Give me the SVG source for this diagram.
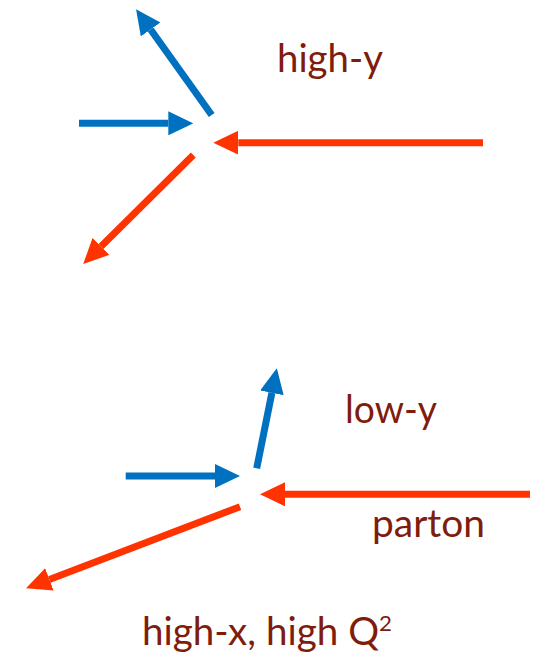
<svg xmlns="http://www.w3.org/2000/svg" width="539" height="662" viewBox="0 0 539 662">
<style>
.b{stroke:#0070C0;stroke-width:7;fill:none}
.r{stroke:#FF3300;stroke-width:7;fill:none}
.t{font-family:Lato,"Open Sans","Liberation Sans",sans-serif;font-size:38px;fill:#7F1C0C}
</style>
<defs>
<marker id="ab" viewBox="0 -12 25 24" markerWidth="25" markerHeight="24" refX="0" refY="0" orient="auto" markerUnits="userSpaceOnUse"><path d="M0,-12 L25,0 L0,12 z" fill="#0070C0"/></marker>
<marker id="ar" viewBox="0 -12 25 24" markerWidth="25" markerHeight="24" refX="0" refY="0" orient="auto" markerUnits="userSpaceOnUse"><path d="M0,-12 L25,0 L0,12 z" fill="#FF3300"/></marker>
</defs>
<rect width="539" height="662" fill="#fff"/>
<g id="connectors">
<line class="b" x1="211.7" y1="115" x2="150.6" y2="29.5" marker-end="url(#ab)"/>
<line class="b" x1="79" y1="123.3" x2="168.3" y2="123.3" marker-end="url(#ab)"/>
<line class="r" x1="483" y1="142.7" x2="238.3" y2="142.7" marker-end="url(#ar)"/>
<line class="r" x1="193.3" y1="155" x2="101" y2="246.4" marker-end="url(#ar)"/>
<line class="b" x1="256.7" y1="468.3" x2="271.9" y2="392.8" marker-end="url(#ab)"/>
<line class="b" x1="125.7" y1="476" x2="215" y2="476" marker-end="url(#ab)"/>
<line class="r" x1="530" y1="494.3" x2="285" y2="494.3" marker-end="url(#ar)"/>
<line class="r" x1="240" y1="506.7" x2="49.4" y2="579.4" marker-end="url(#ar)"/>
</g>
<g id="label-high-y"><text class="t" x="277" y="72" textLength="106" lengthAdjust="spacingAndGlyphs">high-y</text></g>
<g id="label-low-y"><text class="t" x="345" y="423" textLength="92" lengthAdjust="spacingAndGlyphs">low-y</text></g>
<g id="label-parton"><text class="t" x="372" y="537" textLength="113" lengthAdjust="spacingAndGlyphs">parton</text></g>
<g id="label-high-x"><text class="t" x="142" y="645" textLength="250" lengthAdjust="spacingAndGlyphs">high-x, high Q<tspan font-size="22" dy="-14">2</tspan></text></g>
</svg>
